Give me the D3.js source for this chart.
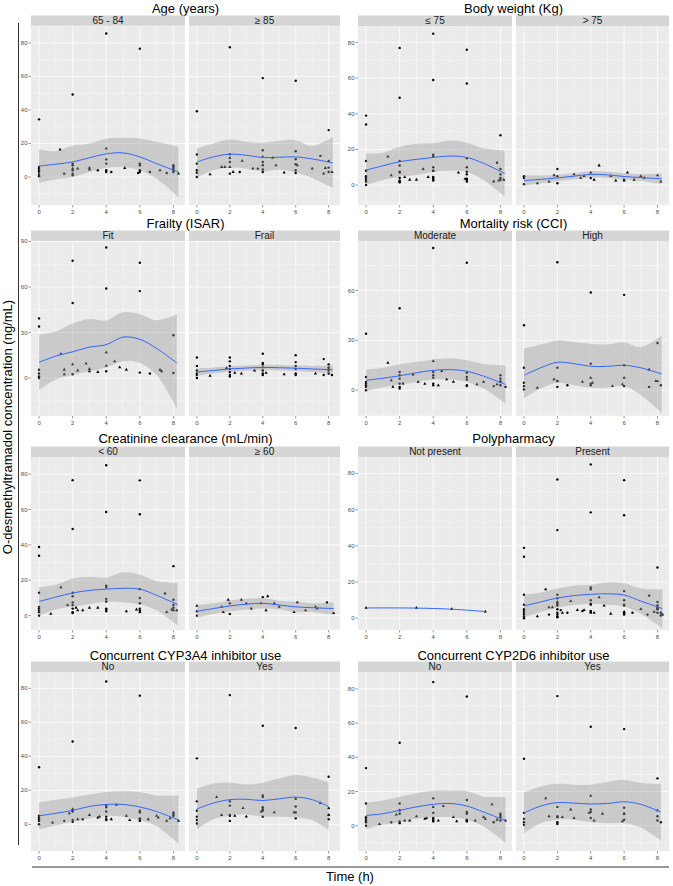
<!DOCTYPE html>
<html>
<head>
<meta charset="utf-8">
<script src="https://cdn.jsdelivr.net/npm/d3@7"></script>
<style>
  body { margin: 0; background: #fff; }
  text { font-family: "Liberation Sans", Arial, sans-serif; }
</style>
</head>
<body>
<svg id="chart" width="673" height="886"></svg>
<script>
// ---- data: [time, concentration] for circles / triangles, fit rows [time, fit, lower, upper]
const age1Circ = [[0,34.4],[0,6],[0,5],[0,4],[0,3],[0,1.5],[0,0.5],[2,49.2],[2,8],[2,7],[2,4],[2,2],[2,1],[4,85.6],[4,10.5],[4,8],[4,4],[4,3],[6,76.6],[6,8],[6,7],[6,4],[6,3],[8,7],[8,6],[8,5],[8,4],[8,3],[1.5,2],[3.5,4],[4.3,3],[5.9,2.4],[6.6,3],[7.6,2.4]];
const age1Tri = [[1.25,16.4],[2.3,5],[3,5.5],[3,4.5],[4,17],[5.1,5.4],[7.2,4],[8.3,2],[2,5]];
const age1Fit = [[0,6.6,-3.6,16.6],[1,7.6,-1.4,15.4],[2,9,0,18.6],[3,11.5,3,20],[4,13.8,5.4,23],[5,14.4,6,23.4],[6,12,4,23],[7,8,-1,21],[8.3,3,-12,18]];

const age2Circ = [[0,39.2],[0,13.4],[0,8],[0,4],[0,2.6],[0,0],[2,77.4],[2,13.6],[2,11.4],[2,9],[2,2],[4,59],[4,16],[4,9],[4,7],[4,3],[6,57.4],[6,15.4],[6,10.6],[6,7.6],[6,4],[6,2.4],[7.5,12.6],[8,28],[8,9.6],[8,5.6],[8,3],[4,4.5],[2.6,3],[3.7,5]];
const age2Tri = [[0.8,1.6],[1.5,6],[1.7,6],[2.2,3],[2,6],[2.75,9.6],[3.4,5],[4,12],[4.6,11.4],[4.8,7],[5.3,2.6],[6.1,7],[7,5],[7.8,5.4],[8.2,3],[7.7,2]];
const age2Fit = [[0,9,-0.4,17],[1,12,4,20],[2,13.6,5.6,22.4],[3,13,5,21],[4,11.6,3.4,20.4],[5,11.8,4.4,21.6],[6,12,2.8,22],[7,10.8,-0.6,18.4],[8.25,8.4,-6.5,24]];

const bw1Circ = [[0,39],[0,34],[0,13.5],[0,8],[0,5],[0,4],[0,3],[0,2],[0,0],[2,77],[2,49],[2,13.5],[2,11],[2,7.5],[2,7],[2,4],[2,2.5],[2,2],[2,1.5],[4,85],[4,59],[4,17],[4,16],[4,10],[4,8],[4,4.5],[4,4],[4,3],[4,2.5],[6,76],[6,57],[6,15],[6,10],[6,7.5],[6,6],[6,3.5],[6,3],[6,2],[7.8,12.5],[8,28],[8,9],[8,6],[8,4],[8,3],[7.6,2]];
const bw1Tri = [[1.3,16],[1.5,5.5],[2.3,4.5],[2.6,3],[3,3],[3.4,9],[3.7,4.5],[5.5,7],[5.9,3.5],[7.9,2.5],[8.2,3],[4,8]];
const bw1Fit = [[0,8.4,0,17.8],[1,10.8,2.8,18.2],[2,13.1,4.7,21.5],[3,14.4,5.6,23],[4,15.5,7.5,23.4],[5,16.3,8,25],[6,15.5,7.5,23.8],[7,12.2,2.8,20.6],[8.25,6.5,-6.5,19.3]];

const bw2Circ = [[0,5],[0,4],[0,0.5],[2,9],[2,5],[2,1],[4,4],[6,3]];
const bw2Tri = [[0.8,1],[1.5,2],[1.8,5.5],[3,6],[3.4,4],[3.6,5],[4,7],[4.2,3],[4.5,11],[5.2,5],[5.5,2.5],[6,2.5],[6.2,7],[6.6,3],[7,5],[7.2,4],[8,5.5],[8.2,2]];
const bw2Fit = [[0,2.5,-0.5,5.5],[1,3.2,1,5.4],[2,4,2.2,5.8],[3,5,3.3,6.7],[4,6,4.2,7.8],[5,5.7,4,7.4],[6,4.8,3,6.6],[7,4.2,2.3,6.1],[8.25,3.5,0.5,6.5]];

const fitCirc = [[0,39.3],[0,34],[0,5.5],[0,3],[0,1],[0,0],[2,77.3],[2,49.5],[2,2.5],[4,86],[4,59],[4,4.5],[6,76],[6,57.3],[6,3.6],[6.6,3],[8,28.2],[8,3.3]];
const fitTri = [[1.3,16],[1.5,5.5],[1.5,2.5],[2,9],[2.3,5],[2.8,9.5],[3,6],[3,4.5],[3.5,4],[4,17],[4,8],[4.5,11],[4.8,7],[5.2,5.5],[7.2,5.5],[7.3,4.5]];
const fitFit = [[0,10.4,-8,28.5],[1,14.5,-1,30.8],[2,17.3,2,36],[3,20.4,4.5,38.9],[4,22,7,38],[5,27,11,43.3],[6,25.5,10,42],[7,19.5,2,38],[8.2,10,-20,42]];

const frailCirc = [[0,13.5],[0,8],[0,5],[0,3],[0,2],[0,0],[2,13.5],[2,11],[2,8],[2,6],[2,4],[2,2],[2,1],[4,16],[4,10],[4,9],[4,5],[4,3],[4,2],[6,15],[6,10.5],[6,8],[6,6],[6,3],[6,2],[7.7,12.5],[7.7,2],[8,9],[8,7],[8,5],[8,3],[8.2,2]];
const frailTri = [[0.8,1.5],[1.8,6.5],[2.3,3.5],[2.7,3],[3.5,5],[4.2,3.5],[5.3,2.5],[7.2,3],[8,6],[4,7]];
const frailFit = [[0,4,1.5,6.5],[1,5,3,7],[2,6,4.2,7.8],[3,6.6,4.8,8.4],[4,7,5.2,8.8],[5,6.8,5,8.6],[6,6.5,4.6,8.4],[7,6,4,8],[8.25,5.5,2.8,8.2]];

const modCirc = [[0,34],[0,8],[0,5],[0,4],[0,3],[0,2],[0,0],[2,49.3],[2,11],[2,9],[2,7],[2,4],[2,2],[2,1],[4,85.6],[4,11],[4,9],[4,7.5],[4,4],[4,3],[6,76.7],[6,10.5],[6,8],[6,6.5],[6,3],[6,2.5],[7.6,2.5],[8,9],[8,7],[8,5],[8,3],[8.3,2]];
const modTri = [[1.3,16.5],[1.5,6],[1.6,2],[2.2,4],[2.8,9.5],[3.1,5],[3.5,3.8],[4,17.5],[4.3,3],[4.5,11.5],[4.8,6.5],[5.2,5],[6.6,3.5],[7,5],[7.8,3.5],[8,5.5]];
const modFit = [[0,6,-0.5,12.5],[1,7.2,1.8,13.5],[2,8.7,3.5,15.7],[3,10.5,5,17],[4,12,6.5,18.5],[5,12.4,6.5,19.2],[6,11.4,5,18],[7,8.5,1,15.8],[8.3,3.5,-8,15]];

const highCirc = [[0,39.1],[0,13.5],[0,4.5],[0,2.5],[0,0.5],[2,77],[2,13.5],[2,5.5],[2,2],[4,58.8],[4,16],[4,4],[4,3],[6,57.4],[6,15],[6,2.5],[7.5,2],[8,28.4],[8,5.5],[8.2,3],[2.6,3]];
const highTri = [[0.8,1.5],[1.8,6.5],[2,5.5],[3.5,5],[4,7.5],[4.1,4.5],[5.3,2.5],[5.9,3.5],[6,7.5],[7.5,12.5],[7.9,5.5]];
const highFit = [[0,9,-5,25],[1,13.5,1,27.5],[2,16.8,4.5,30],[3,16,3,29],[4,14.4,1.5,28],[5,14.4,1.5,27.5],[6,15,2.5,28.8],[7,13.5,-3,26],[8.25,9.8,-13.5,33]];

const crLowCirc = [[0,38.8],[0,33.9],[0,13],[0,5],[0,4],[0,3],[0,2],[0,0],[2,76.6],[2,49],[2,13],[2,11],[2,7.5],[2,6],[2,4],[2,2],[2,1.5],[4,85],[4,58.6],[4,17],[4,16],[4,9.5],[4,8],[4,4],[4,3.5],[4,2.5],[6,76.5],[6,57.3],[6,15],[6,10],[6,7],[6,4],[6,3],[6,2],[7.5,12.5],[8,28],[8,9],[8,6],[8,4.5],[8,3],[8.2,3]];
const crLowTri = [[0.7,1],[1.3,16],[1.7,6],[2.2,4.5],[2.3,3],[2.6,3],[3,4.5],[3.5,4.5],[5.2,2.5],[5.8,3.5],[7.6,2],[7.9,3.5]];
const crLowFit = [[0,8,0,16.2],[1,10.5,3.5,17.5],[2,12.8,5,21],[3,14.3,6.5,22],[4,15,8,21.5],[5,15.5,7.5,24.5],[6,15,6.5,23.3],[7,11.5,3,19.5],[8.25,6.3,-5.5,18.5]];

const crHighCirc = [[0,0],[2,1],[4,10.5],[6.1,7.5],[7.9,7.5]];
const crHighTri = [[0,5.5],[0,2.5],[1.5,5],[1.6,2],[1.9,9],[2,7],[2.7,9],[3,7],[3.3,4],[3.9,7],[4.3,11],[4.2,3],[4.7,7],[5,5],[5.9,2],[6.6,3],[7.2,5],[7.3,4],[8.3,1.5]];
const crHighFit = [[0,2.5,-1,6],[1,4,1,7],[2,5.5,2.5,8.5],[3,6.5,3.5,9.5],[4,7,4,10],[5,6,3.5,8.5],[6,5,2,8],[7,4.5,2,7],[8.3,4,0.5,7.5]];

const polyNoCirc = [];
const polyNoTri = [[0,5.7],[3,5.7],[5.1,5],[7.1,3.7]];
const polyNoFit = [[0,5.7,5.7,5.7],[3,5.6,5.6,5.6],[5.1,5,5,5],[7.1,3.7,3.7,3.7]];

const polyYesCirc = [[0,38.9],[0,34],[0,13],[0,7.5],[0,5],[0,4],[0,3],[0,2],[0,1],[0,0],[2,76.7],[2,48.7],[2,13],[2,11],[2,8],[2,7],[2,5],[2,3],[2,2],[2,1],[2,0.5],[4,85],[4,58.5],[4,17],[4,16],[4,10],[4,8],[4,7.5],[4,4],[4,3.5],[4,3],[6,76.3],[6,56.9],[6,15],[6,10],[6,7.5],[6,7],[6,3],[6,2.5],[6,2],[7.5,12.5],[7.4,2],[8,28],[8,9],[8,7],[8,6],[8,5],[8,3],[8.2,3],[8.2,1.5],[1.5,2],[2.6,3],[2.2,4.5],[3.5,4],[6.5,3]];
const polyYesTri = [[0.8,1],[1.3,16],[1.5,6],[1.7,6],[2,9],[2.3,3],[2.8,9.5],[3.2,4.5],[3.6,4.5],[4.2,3],[4.5,11.5],[4.8,7],[5.2,2.5],[6,3.5],[7,5],[7.8,3.5],[8,5.5],[8.3,2]];
const polyYesFit = [[0,6.8,0.5,13],[1,9,3.5,14.2],[2,11.2,6,16.5],[3,12.5,7.3,18],[4,13.2,8,18.5],[5,13.5,7.5,19.8],[6,12.8,6.5,19.3],[7,9.5,2.5,16.5],[8.3,5.3,-5.5,16]];

const c3NoCirc = [[0,33.6],[0,5],[0,4],[0,3],[0,2],[0,0],[2,48.7],[2,8],[2,7.5],[2,2.5],[2,1.5],[4,84],[4,11],[4,10],[4,7.5],[4,4.5],[4,3],[4,2.5],[6,75.7],[6,8],[6,7],[6,3.5],[6,3],[6,2],[8,7],[8,6],[8,5],[1.5,2],[2.6,3]];
const c3NoTri = [[0.8,1],[1.8,6.5],[2,9],[2.3,3],[3,5.5],[3.5,4],[3.6,4.5],[4.3,3],[4.6,11.5],[5.2,5],[5.4,2.5],[6.5,3],[7,5],[7.1,4],[7.6,2],[7.8,3.5],[8.3,2]];
const c3NoFit = [[0,5,-3,13],[1,6.5,-0.5,14.5],[2,8.2,1.5,15.8],[3,10.5,3.5,17.5],[4,11.7,5,19],[5,11.7,4.5,19.5],[6,10.2,2.5,19],[7,7.5,-1,17],[8.3,2.5,-11.5,17]];

const c3YesCirc = [[0,38.8],[0,13.5],[0,8],[0,4.5],[0,2.5],[0,0.5],[2,76],[2,13.5],[2,11],[2,5.5],[2,5],[2,2],[4,58],[4,17],[4,16],[4,10],[4,8],[4,4.5],[6,56.7],[6,15],[6,10.5],[6,7],[6,3.5],[8,28],[8,9.5],[8,5.5],[8,3]];
const c3YesTri = [[1.2,16],[1.5,5.5],[2.3,5],[2.8,9.5],[3,4.5],[3.9,7.5],[4,9],[4.7,7],[5.9,7],[7.5,12.5],[8,5.5]];
const c3YesFit = [[0,9,-3,21],[1,12.5,3,24],[2,14.5,5,24.5],[3,14.7,5.7,23.5],[4,14,4.5,24.5],[5,15,4.5,27],[6,16,4,29],[7,14.5,2.5,27.5],[8,10.5,-3.5,24.5]];

const c2NoCirc = [[0,33.7],[0,13],[0,5],[0,4],[0,3],[0,2],[0,0],[2,48.5],[2,13],[2,9],[2,7],[2,2.5],[2,1.5],[4,84],[4,16],[4,11],[4,7.5],[4,4.5],[4,4],[4,3],[4,2.5],[6,75.6],[6,15],[6,8],[6,7],[6,3.5],[6,3],[6,2.5],[8,7],[8,6],[8,5],[8,3],[7.6,2],[1.5,2]];
const c2NoTri = [[0.8,1],[1.8,6.5],[2,9],[2.3,3],[2.6,3],[3,5.5],[3.5,4],[3.6,4.5],[4.3,3],[4.6,11.5],[5.2,5],[5.4,2.5],[6.5,3],[7,5],[7.1,4],[7.5,12.5],[7.8,3.5],[8.3,3]];
const c2NoFit = [[0,6,-2,13.5],[1,7,0.5,14.8],[2,9,2,17],[3,11,4,19],[4,12.5,5,20.5],[5,13,5,20.5],[6,11.5,3.5,20.3],[7,8,-0.5,17],[8.3,3,-10,17]];

const c2YesCirc = [[0,39.2],[0,7.5],[0,4],[0,2],[0,0.5],[2,75.8],[2,11],[2,5.5],[2,5],[2,2],[2,1],[4,57.9],[4,9.5],[4,8],[4,4.5],[6,56.5],[6,10.5],[6,7],[6,3.5],[8,27.7],[8,5.5],[8,3],[8.2,2]];
const c2YesTri = [[1.3,16],[1.5,5.5],[2.3,5],[2.8,9.5],[3,4.5],[4,17.5],[3.9,7.5],[4.2,3],[4.7,7],[5.9,2.5],[6,7],[8,9]];
const c2YesFit = [[0,7.5,-4.5,19.5],[1,11.5,1.5,23],[2,13.5,3.5,24.5],[3,13.2,3.5,24],[4,12.7,2,24],[5,13,1.5,25.5],[6,14,1.5,26.8],[7,12.5,-1,25],[8.2,8,-8.5,24.5]];

const xTicks = [0, 2, 4, 6, 8];
const yTicks20 = [0, 20, 40, 60, 80];
const yTicks30 = [0, 30, 60, 90];

// ---- layout
const facetX = [[[31, 185], [189, 340]], [[358, 512], [516, 669]]];
const panelY = [[26, 205], [241, 416], [457, 630], [672, 851]];
const titleY = [12.5, 227.5, 442.5, 659.5];
const stripH = 10.5;
const xDomain = [-0.48, 8.69];

const plots = [
  {row: 0, col: 0, title: "Age (years)", yDomain: [-16.7, 90.1], yTicks: yTicks20,
   facets: [["65 - 84", age1Circ, age1Tri, age1Fit], ["\u2265 85", age2Circ, age2Tri, age2Fit]]},
  {row: 0, col: 1, title: "Body weight (Kg)", yDomain: [-11.2, 89.3], yTicks: yTicks20,
   facets: [["\u2264 75", bw1Circ, bw1Tri, bw1Fit], ["> 75", bw2Circ, bw2Tri, bw2Fit]]},
  {row: 1, col: 0, title: "Frailty (ISAR)", yDomain: [-25, 90.3], yTicks: yTicks30,
   facets: [["Fit", fitCirc, fitTri, fitFit], ["Frail", frailCirc, frailTri, frailFit]]},
  {row: 1, col: 1, title: "Mortality risk (CCI)", yDomain: [-15.5, 89.8], yTicks: yTicks30,
   facets: [["Moderate", modCirc, modTri, modFit], ["High", highCirc, highTri, highFit]]},
  {row: 2, col: 0, title: "Creatinine clearance (mL/min)", yDomain: [-8.1, 89.7], yTicks: yTicks20,
   facets: [["< 60", crLowCirc, crLowTri, crLowFit], ["\u2265 60", crHighCirc, crHighTri, crHighFit]]},
  {row: 2, col: 1, title: "Polypharmacy", yDomain: [-6.5, 89.1], yTicks: yTicks20,
   facets: [["Not present", polyNoCirc, polyNoTri, polyNoFit], ["Present", polyYesCirc, polyYesTri, polyYesFit]]},
  {row: 3, col: 0, title: "Concurrent CYP3A4 inhibitor use", yDomain: [-15.7, 89.6], yTicks: yTicks20,
   facets: [["No", c3NoCirc, c3NoTri, c3NoFit], ["Yes", c3YesCirc, c3YesTri, c3YesFit]]},
  {row: 3, col: 1, title: "Concurrent CYP2D6 inhibitor use", yDomain: [-14.8, 89.9], yTicks: yTicks20,
   facets: [["No", c2NoCirc, c2NoTri, c2NoFit], ["Yes", c2YesCirc, c2YesTri, c2YesFit]]}
];

const svg = d3.select("#chart");
const tri = d3.symbol().type(d3.symbolTriangle).size(4.5);
let clipId = 0;

function minorOf(ticks, domain) {
  const step = ticks[1] - ticks[0];
  const out = [];
  for (let v = ticks[0] - step / 2; v <= domain[1]; v += step) {
    if (v >= domain[0]) out.push(v);
  }
  for (let v = ticks[0] - step / 2; v >= domain[0]; v -= step) {
    if (out.indexOf(v) < 0) out.push(v);
  }
  return out;
}

plots.forEach(function(p) {
  const top = panelY[p.row][0], bottom = panelY[p.row][1];
  const y = d3.scaleLinear().domain(p.yDomain).range([bottom, top]);
  const yMajor = p.yTicks.filter(v => v >= p.yDomain[0] && v <= p.yDomain[1]);
  const yMinor = minorOf(p.yTicks, p.yDomain);
  const xs = facetX[p.col];

  // title
  svg.append("text")
    .attr("x", (xs[0][0] + xs[1][1]) / 2).attr("y", titleY[p.row])
    .attr("text-anchor", "middle").attr("font-size", 13).attr("fill", "#000")
    .text(p.title);

  p.facets.forEach(function(f, i) {
    const x = d3.scaleLinear().domain(xDomain).range(xs[i]);
    const g = svg.append("g");
    const id = "clip" + (clipId++);
    svg.append("clipPath").attr("id", id).append("rect")
      .attr("x", xs[i][0]).attr("y", top).attr("width", xs[i][1] - xs[i][0]).attr("height", bottom - top);

    // strip
    g.append("rect").attr("x", xs[i][0]).attr("y", top - stripH)
      .attr("width", xs[i][1] - xs[i][0]).attr("height", stripH).attr("fill", "#d6d6d6");
    g.append("text").attr("x", (xs[i][0] + xs[i][1]) / 2).attr("y", top - stripH / 2 + 3.5)
      .attr("text-anchor", "middle").attr("font-size", 10).attr("fill", "#1a1a1a").text(f[0]);

    // panel
    g.append("rect").attr("x", xs[i][0]).attr("y", top)
      .attr("width", xs[i][1] - xs[i][0]).attr("height", bottom - top).attr("fill", "#ebebeb");

    const xMinor = [1, 3, 5, 7];
    g.selectAll(".ymin").data(yMinor).enter().append("line")
      .attr("x1", xs[i][0]).attr("x2", xs[i][1]).attr("y1", d => y(d)).attr("y2", d => y(d))
      .attr("stroke", "#fff").attr("stroke-width", 0.35);
    g.selectAll(".xmin").data(xMinor).enter().append("line")
      .attr("y1", top).attr("y2", bottom).attr("x1", d => x(d)).attr("x2", d => x(d))
      .attr("stroke", "#fff").attr("stroke-width", 0.35);
    g.selectAll(".ymaj").data(yMajor).enter().append("line")
      .attr("x1", xs[i][0]).attr("x2", xs[i][1]).attr("y1", d => y(d)).attr("y2", d => y(d))
      .attr("stroke", "#fff").attr("stroke-width", 0.75);
    g.selectAll(".xmaj").data(xTicks).enter().append("line")
      .attr("y1", top).attr("y2", bottom).attr("x1", d => x(d)).attr("x2", d => x(d))
      .attr("stroke", "#fff").attr("stroke-width", 0.75);

    // points
    const pts = g.append("g").attr("clip-path", "url(#" + id + ")");
    pts.selectAll("circle").data(f[1]).enter().append("circle")
      .attr("cx", d => x(d[0])).attr("cy", d => y(d[1])).attr("r", 1.2).attr("fill", "#000");
    pts.selectAll("path").data(f[2]).enter().append("path")
      .attr("d", tri).attr("transform", d => "translate(" + x(d[0]) + "," + y(d[1]) + ")")
      .attr("fill", "#000");

    // loess ribbon + line
    const area = d3.area().curve(d3.curveCatmullRom.alpha(0.5))
      .x(d => x(d[0])).y0(d => y(d[2])).y1(d => y(d[3]));
    const line = d3.line().curve(d3.curveCatmullRom.alpha(0.5))
      .x(d => x(d[0])).y(d => y(d[1]));
    const sm = g.append("g").attr("clip-path", "url(#" + id + ")");
    sm.append("path").datum(f[3]).attr("d", area).attr("fill", "#999999").attr("fill-opacity", 0.4);
    sm.append("path").datum(f[3]).attr("d", line).attr("fill", "none")
      .attr("stroke", "#3366ff").attr("stroke-width", 1);

    // x axis
    const xa = g.append("g");
    xa.selectAll("line").data(xTicks).enter().append("line")
      .attr("x1", d => x(d)).attr("x2", d => x(d)).attr("y1", bottom).attr("y2", bottom + 2.5)
      .attr("stroke", "#333").attr("stroke-width", 0.5);
    xa.selectAll("text").data(xTicks).enter().append("text")
      .attr("x", d => x(d)).attr("y", bottom + 8.5).attr("text-anchor", "middle")
      .attr("font-size", 6).attr("fill", "#4d4d4d").text(d => d);

    // y axis on the first facet only
    if (i === 0) {
      const ya = g.append("g");
      ya.selectAll("line").data(yMajor).enter().append("line")
        .attr("x1", xs[0][0] - 2.5).attr("x2", xs[0][0]).attr("y1", d => y(d)).attr("y2", d => y(d))
        .attr("stroke", "#333").attr("stroke-width", 0.5);
      ya.selectAll("text").data(yMajor).enter().append("text")
        .attr("x", xs[0][0] - 3.5).attr("y", d => y(d) + 2).attr("text-anchor", "end")
        .attr("font-size", 6).attr("fill", "#4d4d4d").text(d => d);
    }
  });
});

// shared axis titles and frame lines
svg.append("line").attr("x1", 18.5).attr("x2", 18.5).attr("y1", 23).attr("y2", 845)
  .attr("stroke", "#333").attr("stroke-width", 1);
svg.append("line").attr("x1", 32).attr("x2", 669).attr("y1", 867).attr("y2", 867)
  .attr("stroke", "#333").attr("stroke-width", 1);
svg.append("text").attr("transform", "translate(12,427) rotate(-90)")
  .attr("text-anchor", "middle").attr("font-size", 13).attr("fill", "#000")
  .text("O-desmethyltramadol concentration (ng/mL)");
svg.append("text").attr("x", 350).attr("y", 881).attr("text-anchor", "middle")
  .attr("font-size", 13).attr("fill", "#000").text("Time (h)");
</script>
</body>
</html>
